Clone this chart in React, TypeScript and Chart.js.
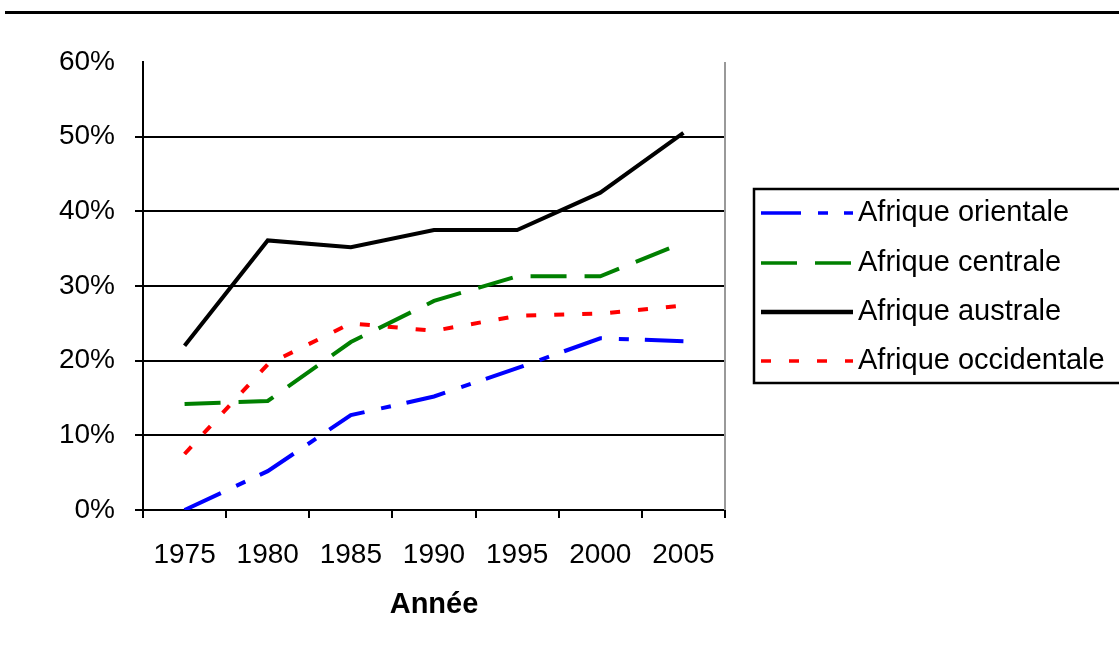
import React, { useEffect, useRef } from "react";
import { Chart, registerables } from "chart.js";

Chart.register(...registerables);

const years = ["1975", "1980", "1985", "1990", "1995", "2000", "2005"];
const seriesNames = [
  "Afrique orientale",
  "Afrique centrale",
  "Afrique australe",
  "Afrique occidentale",
];
const orientale = [0, 5.2, 12.7, 15.2, 19.0, 23.0, 22.6];
const centrale = [14.2, 14.6, 22.5, 28.0, 31.3, 31.3, 35.8];
const australe = [22.0, 36.1, 35.2, 37.5, 37.5, 42.5, 50.5];
const occidentale = [7.5, 19.5, 25.0, 24.0, 26.0, 26.3, 27.4];
const yTickValues = [0, 10, 20, 30, 40, 50, 60];
const xTitle = "Année";

const FONT = "'Liberation Sans', Arial, sans-serif";

const decorPlugin = {
  id: "decor",
  beforeDraw(chart: any) {
    const { ctx, width } = chart;
    ctx.save();
    ctx.fillStyle = "#ffffff";
    ctx.fillRect(0, 0, width, chart.height);
    ctx.strokeStyle = "#000";
    ctx.lineWidth = 3;
    ctx.beginPath();
    ctx.moveTo(5, 12.5);
    ctx.lineTo(width, 12.5);
    ctx.stroke();
    ctx.restore();
  },
  beforeDatasetsDraw(chart: any) {
    const { ctx, chartArea } = chart;
    ctx.save();
    ctx.strokeStyle = "#999";
    ctx.lineWidth = 2;
    ctx.beginPath();
    ctx.moveTo(chartArea.right, chartArea.top);
    ctx.lineTo(chartArea.right, chartArea.bottom);
    ctx.stroke();
    ctx.restore();
  },
  afterDraw(chart: any) {
    const { ctx } = chart;
    ctx.save();
    ctx.strokeStyle = "#000";
    ctx.lineWidth = 2.5;
    ctx.strokeRect(754, 189, 400, 194);
    const rows = [213, 263, 312, 361];
    chart.data.datasets.forEach((ds: any, i: number) => {
      const y = rows[i];
      ctx.strokeStyle = ds.borderColor;
      ctx.lineWidth = i === 2 ? 4.5 : 3.5;
      ctx.setLineDash(ds.borderDash || []);
      ctx.lineCap = "butt";
      ctx.beginPath();
      ctx.moveTo(761, y);
      ctx.lineTo(853, y);
      ctx.stroke();
      ctx.setLineDash([]);
      ctx.fillStyle = "#000";
      ctx.font = `29px ${FONT}`;
      ctx.textAlign = "left";
      ctx.textBaseline = "middle";
      ctx.fillText(ds.label, 858, y);
    });
    ctx.restore();
  },
};

export default function App() {
  const ref = useRef<HTMLCanvasElement | null>(null);
  useEffect(() => {
    if (!ref.current) return;
    const chart = new Chart(ref.current, {
      type: "line",
      data: {
        labels: years,
        datasets: [
          {
            label: seriesNames[0],
            data: orientale,
            borderColor: "#0000ff",
            borderDash: [40, 17, 10, 16],
            borderWidth: 4,
            pointRadius: 0,
            tension: 0,
          },
          {
            label: seriesNames[1],
            data: centrale,
            borderColor: "#008000",
            borderDash: [36, 18],
            borderWidth: 4,
            pointRadius: 0,
            tension: 0,
          },
          {
            label: seriesNames[2],
            data: australe,
            borderColor: "#000000",
            borderWidth: 4,
            pointRadius: 0,
            tension: 0,
          },
          {
            label: seriesNames[3],
            data: occidentale,
            borderColor: "#ff0000",
            borderDash: [10, 18],
            borderWidth: 4,
            pointRadius: 0,
            tension: 0,
          },
        ],
      },
      options: {
        animation: false,
        responsive: false,
        layout: { padding: { left: 0, right: 394, top: 62, bottom: 0 } },
        plugins: {
          legend: { display: false },
          tooltip: { enabled: false },
          title: { display: false },
        },
        scales: {
          x: {
            type: "category",
            offset: true,
            afterFit: (s: any) => {
              s.height = 146;
            },
            grid: {
              offset: true,
              drawOnChartArea: false,
              drawTicks: true,
              tickLength: 8,
              color: "#000",
              lineWidth: 2,
            },
            border: { color: "#000", width: 2 },
            ticks: {
              color: "#000",
              font: { family: FONT, size: 28 },
              padding: 20,
              maxRotation: 0,
              autoSkip: false,
            },
            title: {
              display: true,
              text: xTitle,
              color: "#000",
              font: { family: FONT, size: 29, weight: "bold" },
              padding: { top: 0, bottom: 34 },
            },
          },
          y: {
            min: 0,
            max: 60,
            afterFit: (s: any) => {
              s.width = 143;
            },
            afterBuildTicks: (s: any) => {
              s.ticks = yTickValues.map((v) => ({ value: v }));
            },
            grid: {
              color: (c: any) =>
                c.tick && c.tick.value === 60 ? "rgba(0,0,0,0)" : "#000",
              lineWidth: 2,
              tickLength: 8,
            },
            border: { color: "#000", width: 2 },
            ticks: {
              color: "#000",
              font: { family: FONT, size: 28 },
              padding: 20,
              callback: (v: any) => `${v}%`,
            },
          },
        },
      },
      plugins: [decorPlugin],
    });
    return () => chart.destroy();
  }, []);
  return (
    <div style={{ position: "absolute", left: 0, top: 0, width: 1119, height: 656 }}>
      <canvas ref={ref} width={1119} height={656} />
    </div>
  );
}
